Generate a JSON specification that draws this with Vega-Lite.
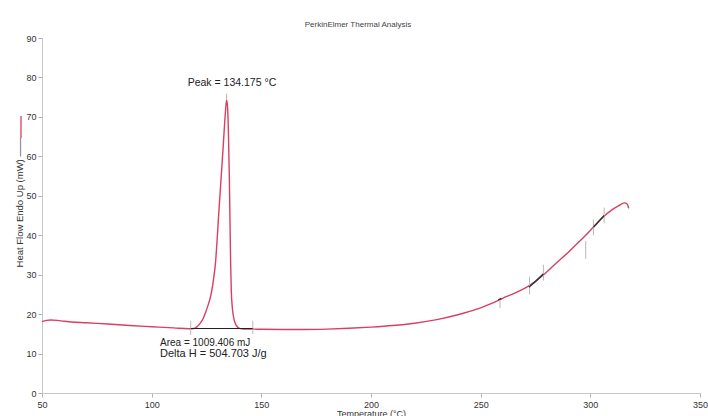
{
  "$schema": "https://vega.github.io/schema/vega-lite/v6.json",
  "autosize": "none",
  "width": 658,
  "height": 355,
  "padding": {"left": 42, "top": 38, "right": 8, "bottom": 23},
  "background": "white",
  "title": {
    "text": "PerkinElmer Thermal Analysis",
    "font": "Liberation Sans",
    "fontSize": 8,
    "fontWeight": "normal",
    "color": "#444",
    "anchor": "middle",
    "offset": 5,
    "dx": -13
  },
  "config": {
    "view": {"stroke": null},
    "font": "Liberation Sans",
    "axis": {
      "grid": false,
      "domainColor": "#c8c8c8",
      "domainWidth": 1,
      "tickColor": "#b0b0b0",
      "tickSize": 4,
      "labelColor": "#333",
      "labelFont": "Liberation Sans",
      "labelFontSize": 9,
      "titleFont": "Liberation Sans",
      "titleFontWeight": "normal",
      "titleColor": "#333",
      "labelOverlap": false,
      "labelSeparation": 0,
      "labelBound": false,
      "labelFlush": false
    }
  },
  "datasets": {
    "curve": [
      {"series": "Heat Flow", "t": 50, "mw": 18.1},
      {"series": "Heat Flow", "t": 52, "mw": 18.4},
      {"series": "Heat Flow", "t": 54, "mw": 18.5},
      {"series": "Heat Flow", "t": 57, "mw": 18.4},
      {"series": "Heat Flow", "t": 60, "mw": 18.2},
      {"series": "Heat Flow", "t": 70, "mw": 17.8},
      {"series": "Heat Flow", "t": 80, "mw": 17.5},
      {"series": "Heat Flow", "t": 90, "mw": 17.1},
      {"series": "Heat Flow", "t": 100, "mw": 16.8},
      {"series": "Heat Flow", "t": 110, "mw": 16.5},
      {"series": "Heat Flow", "t": 117, "mw": 16.3},
      {"series": "Heat Flow", "t": 119.2, "mw": 16.35},
      {"series": "Heat Flow", "t": 120.5, "mw": 16.7},
      {"series": "Heat Flow", "t": 122, "mw": 17.6},
      {"series": "Heat Flow", "t": 123.5, "mw": 18.9},
      {"series": "Heat Flow", "t": 124.5, "mw": 20.3},
      {"series": "Heat Flow", "t": 125.8, "mw": 22.4},
      {"series": "Heat Flow", "t": 126.8, "mw": 24.3},
      {"series": "Heat Flow", "t": 128, "mw": 28.0},
      {"series": "Heat Flow", "t": 129.1, "mw": 33.0},
      {"series": "Heat Flow", "t": 130.6, "mw": 45.6},
      {"series": "Heat Flow", "t": 132.6, "mw": 62.4},
      {"series": "Heat Flow", "t": 133.6, "mw": 71.0},
      {"series": "Heat Flow", "t": 134.175, "mw": 74.3},
      {"series": "Heat Flow", "t": 134.6, "mw": 72.5},
      {"series": "Heat Flow", "t": 135.0, "mw": 66.0},
      {"series": "Heat Flow", "t": 135.4, "mw": 55.0},
      {"series": "Heat Flow", "t": 135.7, "mw": 44.0},
      {"series": "Heat Flow", "t": 136.0, "mw": 33.0},
      {"series": "Heat Flow", "t": 136.3, "mw": 26.0},
      {"series": "Heat Flow", "t": 136.8, "mw": 21.5},
      {"series": "Heat Flow", "t": 137.5, "mw": 18.8},
      {"series": "Heat Flow", "t": 138.5, "mw": 17.2},
      {"series": "Heat Flow", "t": 140, "mw": 16.4},
      {"series": "Heat Flow", "t": 142, "mw": 16.2},
      {"series": "Heat Flow", "t": 146, "mw": 16.2},
      {"series": "Heat Flow", "t": 150, "mw": 16.15},
      {"series": "Heat Flow", "t": 160, "mw": 16.1},
      {"series": "Heat Flow", "t": 170, "mw": 16.1},
      {"series": "Heat Flow", "t": 180, "mw": 16.2},
      {"series": "Heat Flow", "t": 190, "mw": 16.4},
      {"series": "Heat Flow", "t": 200, "mw": 16.7},
      {"series": "Heat Flow", "t": 210, "mw": 17.1},
      {"series": "Heat Flow", "t": 220, "mw": 17.7},
      {"series": "Heat Flow", "t": 230, "mw": 18.6},
      {"series": "Heat Flow", "t": 240, "mw": 19.9},
      {"series": "Heat Flow", "t": 245, "mw": 20.7},
      {"series": "Heat Flow", "t": 250, "mw": 21.6},
      {"series": "Heat Flow", "t": 255, "mw": 22.7},
      {"series": "Heat Flow", "t": 260, "mw": 24.0},
      {"series": "Heat Flow", "t": 265, "mw": 25.2},
      {"series": "Heat Flow", "t": 270, "mw": 26.5},
      {"series": "Heat Flow", "t": 275, "mw": 28.3},
      {"series": "Heat Flow", "t": 280, "mw": 30.6},
      {"series": "Heat Flow", "t": 285, "mw": 33.2},
      {"series": "Heat Flow", "t": 290, "mw": 35.7},
      {"series": "Heat Flow", "t": 295, "mw": 38.4},
      {"series": "Heat Flow", "t": 300, "mw": 41.2},
      {"series": "Heat Flow", "t": 305, "mw": 44.2},
      {"series": "Heat Flow", "t": 310, "mw": 46.5},
      {"series": "Heat Flow", "t": 313, "mw": 47.5},
      {"series": "Heat Flow", "t": 315.5, "mw": 48.2},
      {"series": "Heat Flow", "t": 316.8, "mw": 47.9},
      {"series": "Heat Flow", "t": 317.5, "mw": 46.8}
    ],
    "segments": [
      {"seg": "a", "t": 258, "mw": 23.6},
      {"seg": "a", "t": 259.5, "mw": 24.0},
      {"seg": "b", "t": 272, "mw": 26.8},
      {"seg": "b", "t": 275, "mw": 28.3},
      {"seg": "b", "t": 278.6, "mw": 30.2},
      {"seg": "c", "t": 301.4, "mw": 42.0},
      {"seg": "c", "t": 304, "mw": 43.6},
      {"seg": "c", "t": 306.3, "mw": 45.0}
    ],
    "limits": [
      {"t": 117.8, "lo": 14.7, "hi": 18.3},
      {"t": 146.1, "lo": 14.9, "hi": 18.3},
      {"t": 134.175, "lo": 74.5, "hi": 75.9},
      {"t": 258.8, "lo": 21.5, "hi": 23.6},
      {"t": 272.3, "lo": 25.0, "hi": 29.5},
      {"t": 278.6, "lo": 28.5, "hi": 32.5},
      {"t": 297.9, "lo": 34.0, "hi": 38.5},
      {"t": 301.4, "lo": 40.0, "hi": 44.0},
      {"t": 306.3, "lo": 43.0, "hi": 47.0}
    ],
    "baseline": [
      {"t1": 117.8, "t2": 146.1, "mw": 16.35}
    ],
    "peak": [
      {"label": "Peak = 134.175 °C", "t": 136.6, "mw": 78.6}
    ],
    "area": [
      {"label": "Area = 1009.406 mJ", "t": 103.8, "mw": 12.6}
    ],
    "enthalpy": [
      {"label": "Delta H = 504.703 J/g", "t": 103.8, "mw": 9.9}
    ]
  },
  "layer": [
    {
      "data": {"name": "curve"},
      "mark": {"type": "line", "strokeWidth": 1.4, "interpolate": "monotone"},
      "encoding": {
        "x": {
          "field": "t",
          "type": "quantitative",
          "scale": {"domain": [50, 350], "nice": false, "zero": false},
          "axis": {
            "values": [50, 100, 150, 200, 250, 300, 350],
            "title": "Temperature (°C)",
            "titleFontSize": 9,
            "titlePadding": 0,
            "labelPadding": 3,
            "labelOverlap": false
          }
        },
        "y": {
          "field": "mw",
          "type": "quantitative",
          "scale": {"domain": [0, 90], "nice": false, "zero": false},
          "axis": {
            "values": [0, 10, 20, 30, 40, 50, 60, 70, 80, 90],
            "tickCount": 10,
            "labelOverlap": false,
            "labelSeparation": 0,
            "title": "Heat Flow Endo Up (mW) ——",
            "titleFontSize": 9.5,
            "titleX": -23,
            "titleY": 164,
            "titleAngle": 270,
            "titleAlign": "center",
            "titleBaseline": "middle",
            "labelPadding": 2
          }
        },
        "color": {
          "field": "series",
          "type": "nominal",
          "scale": {"range": ["#d8405f"]},
          "legend": {
            "orient": "none",
            "legendX": -33,
            "legendY": 77,
            "title": null,
            "labelExpr": "''",
            "symbolType": "M0,-1L0,1",
            "symbolSize": 484,
            "symbolStrokeWidth": 1.3,
            "padding": 0
          }
        }
      }
    },
    {
      "data": {"name": "limits"},
      "mark": {"type": "rule", "color": "#b8b8b8", "strokeWidth": 1},
      "encoding": {
        "x": {"field": "t", "type": "quantitative"},
        "y": {"field": "lo", "type": "quantitative"},
        "y2": {"field": "hi"}
      }
    },
    {
      "data": {"name": "baseline"},
      "mark": {"type": "rule", "color": "#222", "strokeWidth": 1},
      "encoding": {
        "x": {"field": "t1", "type": "quantitative"},
        "x2": {"field": "t2"},
        "y": {"field": "mw", "type": "quantitative"}
      }
    },
    {
      "data": {"name": "segments"},
      "mark": {"type": "line", "color": "#333", "strokeWidth": 1.4},
      "encoding": {
        "x": {"field": "t", "type": "quantitative"},
        "y": {"field": "mw", "type": "quantitative"},
        "detail": {"field": "seg"}
      }
    },
    {
      "data": {"name": "peak"},
      "mark": {"type": "text", "color": "#222", "baseline": "middle", "align": "center", "fontSize": 10.5, "font": "Liberation Sans"},
      "encoding": {
        "x": {"field": "t", "type": "quantitative"},
        "y": {"field": "mw", "type": "quantitative"},
        "text": {"field": "label"}
      }
    },
    {
      "data": {"name": "area"},
      "mark": {"type": "text", "color": "#222", "baseline": "middle", "align": "left", "fontSize": 10, "font": "Liberation Sans"},
      "encoding": {
        "x": {"field": "t", "type": "quantitative"},
        "y": {"field": "mw", "type": "quantitative"},
        "text": {"field": "label"}
      }
    },
    {
      "data": {"name": "enthalpy"},
      "mark": {"type": "text", "color": "#222", "baseline": "middle", "align": "left", "fontSize": 11, "font": "Liberation Sans"},
      "encoding": {
        "x": {"field": "t", "type": "quantitative"},
        "y": {"field": "mw", "type": "quantitative"},
        "text": {"field": "label"}
      }
    }
  ]
}
